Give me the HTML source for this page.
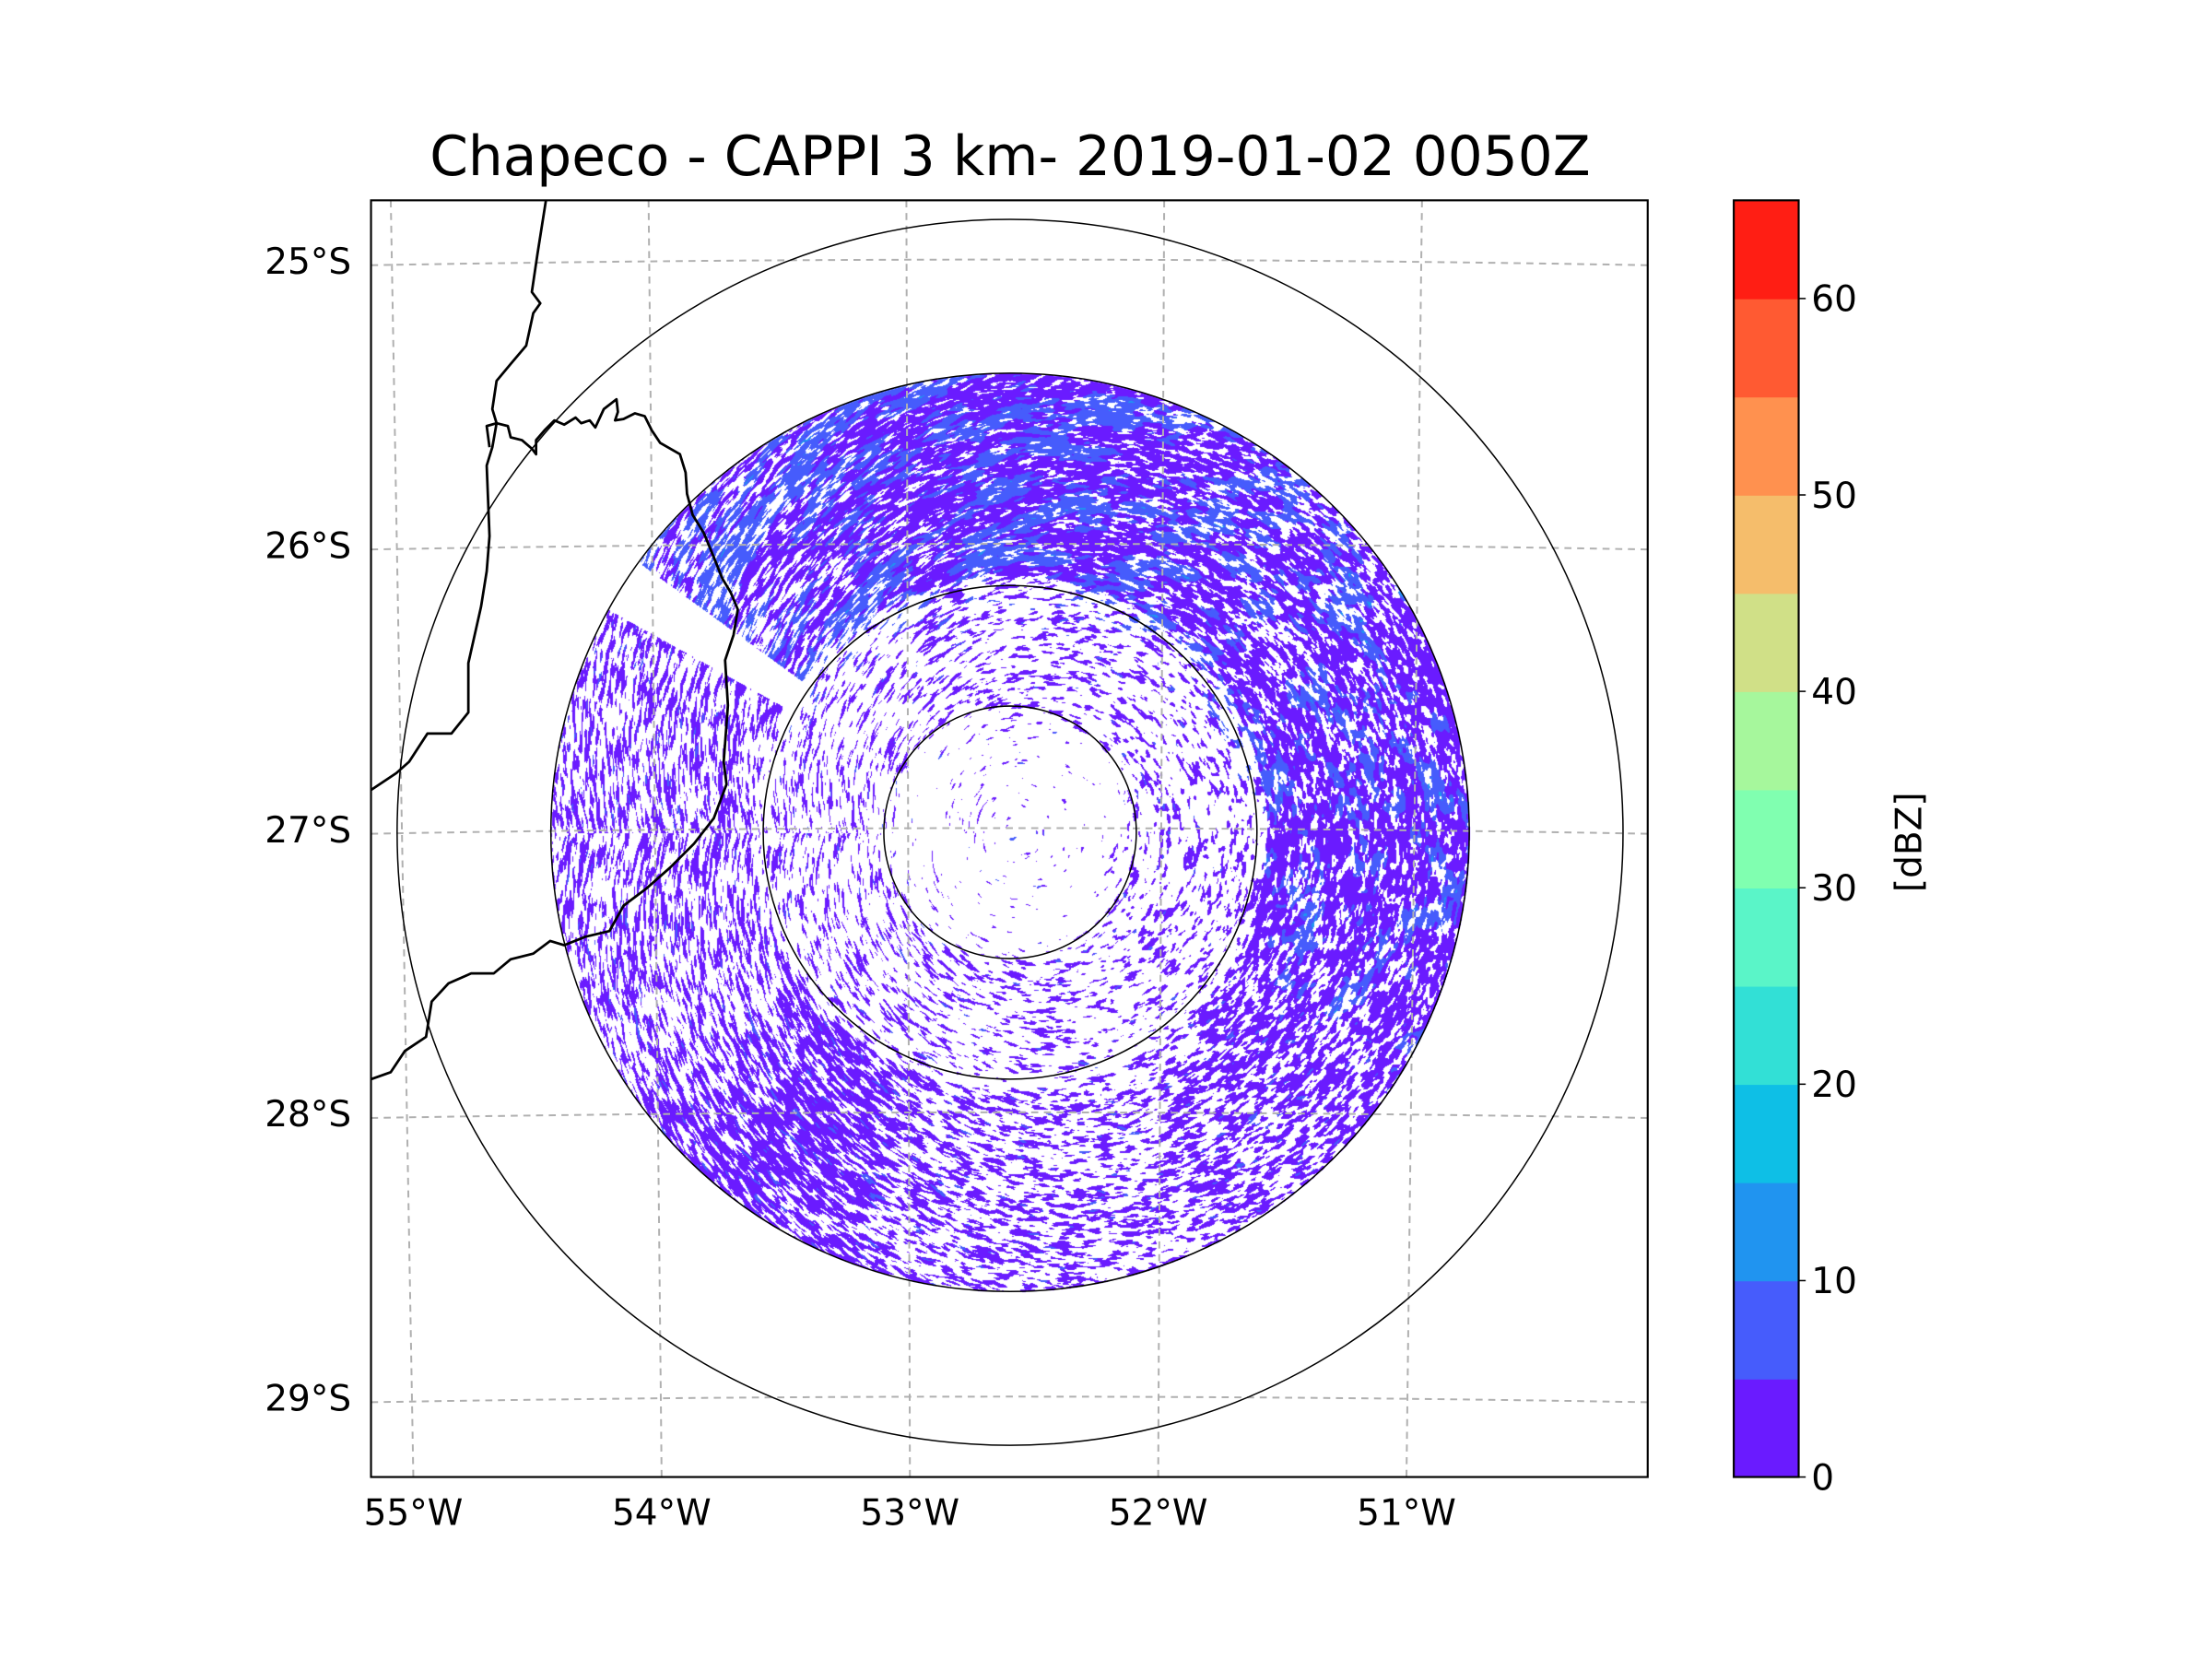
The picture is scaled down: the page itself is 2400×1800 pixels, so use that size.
<!DOCTYPE html>
<html><head><meta charset="utf-8">
<style>
html,body{margin:0;padding:0;background:#fff;}
#wrap{position:relative;width:2400px;height:1800px;overflow:hidden;font-family:"DejaVu Sans","Liberation Sans",sans-serif;}
#radar{position:absolute;left:0;top:0;}
#ov{position:absolute;left:0;top:0;}
</style></head>
<body>
<div id="wrap">
<canvas id="radar" width="2400" height="1800"></canvas>
<svg id="ov" width="2400" height="1800" viewBox="0 0 1568 1176">
 <g id="grid" stroke="#b0b0b0" stroke-width="1.3" stroke-dasharray="5,4" fill="none"></g>
 <g stroke="#000" stroke-width="1.8" fill="none" stroke-linejoin="round">
  <polyline points="387,142 381,180 377,207 383,215 378,222 373,245 362,258 352,270 349,290 352,300 349,317 345,330 347,380 345,405 341,430 332,470 332,505 320,520 303,520 290,540 281,548 263,560"/>
  <polyline points="347,317 345,302 352,300 360,302 362,310 370,312 377,318 380,322 380,312 386,305 393,298 400,301 408,296 412,300 418,298 422,303 428,290 437,283 438,292 436,298 442,297 450,293 457,295 462,305 468,314 475,318 482,322 486,335 487,350 491,365 499,378 506,395 512,410 518,420 523,432 520,450 514,468 516,500 513,540 515,556 506,580 492,598 475,615 458,630 442,642 432,660 415,664 400,670 390,667 378,676 362,680 350,690 334,690 318,697 306,710 302,735 287,745 277,760 263,765"/>
 </g>
 <g id="rings" stroke="#000" stroke-width="1" fill="none"></g>
 <rect x="263" y="142" width="905" height="905" fill="none" stroke="#000" stroke-width="1.4"/>
 <text x="716" y="124" font-size="39" text-anchor="middle" fill="#000">Chapeco - CAPPI 3 km- 2019-01-02 0050Z</text>
 <g id="ylab" font-size="25.5" text-anchor="end" fill="#000"></g>
 <g id="xlab" font-size="25.5" text-anchor="middle" fill="#000"></g>
 <g id="cbar"></g>
 <g id="cbt" font-size="25.5" fill="#000"></g>
 <text transform="translate(1362,597) rotate(-90)" font-size="25.5" text-anchor="middle" fill="#000">[dBZ]</text>
</svg>
</div>
<script>
// colorbar data
const levels = [0,5,10,15,20,25,30,35,40,45,50,55,60,65];
const levelColors = ["#6a1bff","#465cfc","#2094f0","#0ebfe6","#32e0d6","#5af5c8","#80ffb0","#a6f79c","#d0e087","#f5bd6b","#ff914f","#ff5a32","#ff1e14"];
const cbTicks = [0,10,20,30,40,50,60];
// map gridline data (degrees)
const latTicks = [25,26,27,28,29];
const latLabels = ["25°S","26°S","27°S","28°S","29°S"];
const lonTicks = [55,54,53,52,51];
const lonLabels = ["55°W","54°W","53°W","52°W","51°W"];

const NS="http://www.w3.org/2000/svg";
function mk(tag,attrs,parent){const e=document.createElementNS(NS,tag);for(const k in attrs)e.setAttribute(k,attrs[k]);parent.appendChild(e);return e;}
const cbY = v => 1047 - (v-0)*(905/65);
const latY = lat => 185 + (lat-25)*201.5;
const lonTopX = lon => 277 + (55-lon)*182.75;
const lonBotX = lon => 293 + (55-lon)*176;
const CX=716, CY=590;

const grid=document.getElementById('grid');
latTicks.forEach((lat,i)=>{
  const yc=latY(lat);
  const l=mk('path',{d:`M263,${yc+3} Q716,${yc-5} 1168,${yc+3}`},grid);
  
  
  const t=mk('text',{x:249,y:yc+9},document.getElementById('ylab'));
  t.textContent=latLabels[i];
  
  
});
lonTicks.forEach((lon,i)=>{
  const l=mk('line',{x1:lonTopX(lon),y1:142,x2:lonBotX(lon),y2:1047},grid);
  
  
  const t=mk('text',{x:lonBotX(lon),y:1081},document.getElementById('xlab'));
  t.textContent=lonLabels[i];
  
  
});
const rings=document.getElementById('rings');
const ringR=[89.5,175,325.5,434.5];
ringR.forEach(r=>{
  const c=mk('circle',{cx:CX,cy:CY,r:r},rings);
  
  
});
const cbar=document.getElementById('cbar');
for(let i=0;i<levelColors.length;i++){
  const r=mk('rect',{x:1229,y:cbY(levels[i+1]),width:46,height:cbY(levels[i])-cbY(levels[i+1])+0.5,fill:levelColors[i]},cbar);
  
  
}
const fr=mk('rect',{x:1229,y:142,width:46,height:905,fill:'none',stroke:'#000','stroke-width':1.4},cbar);


const cbt=document.getElementById('cbt');
cbTicks.forEach(v=>{
  const l=mk('line',{x1:1275,y1:cbY(v),x2:1280,y2:cbY(v),stroke:'#000','stroke-width':1},cbt);
  
  
  const t=mk('text',{x:1284,y:cbY(v)+9},cbt);
  t.textContent=v;
  
  
});

// radar texture
(function(){
  const cv=document.getElementById('radar'),ctx=cv.getContext('2d');
  const S=2400/1568, cx=CX*S, cy=CY*S, R=325.5*S;
  function h(i,j,s){let n=(i*374761393+j*668265263+s*982451653)|0;n=(n^(n>>>13))*1274126177|0;n=n^(n>>>16);return (n>>>0)/4294967296;}
  function vn(x,y,s){const i=Math.floor(x),j=Math.floor(y),fx=x-i,fy=y-j;const ux=fx*fx*(3-2*fx),uy=fy*fy*(3-2*fy);
    const a=h(i,j,s),b=h(i+1,j,s),c=h(i,j+1,s),d=h(i+1,j+1,s);return a+(b-a)*ux+(c-a)*uy+(a-b-c+d)*ux*uy;}
  function bump(deg,c,w){let d=Math.abs(deg-c);if(d>180)d=360-d;return d<w?0.5+0.5*Math.cos(Math.PI*d/w):0;}
  function sect(deg){
    return 0.46 + 0.22*bump(deg,-90,80) + 0.17*bump(deg,0,70) + 0.15*bump(deg,125,25);
  }
  const img=ctx.createImageData(2400,1800),D=img.data;
  const cols=[[106,27,255],[70,92,252],[32,148,240],[14,191,230]];
  const x0=Math.floor(cx-R),x1=Math.ceil(cx+R),y0=Math.floor(cy-R),y1=Math.ceil(cy+R);
  for(let y=y0;y<=y1;y++)for(let x=x0;x<=x1;x++){
    const dx=x-cx,dy=y-cy,r=Math.sqrt(dx*dx+dy*dy);if(r>R)continue;
    const th=Math.atan2(dy,dx),deg=th*180/Math.PI,rn=r/R;
    let dens;
    if(rn>0.56) dens=sect(deg);
    else if(rn>0.5) dens=sect(deg)*(rn-0.5)/0.06*0.6+0.38*(1-(rn-0.5)/0.06);
    else if(rn>0.27) dens=0.37;
    else dens=0.2;
    if(deg<-144&&deg>-151&&rn>0.54) dens=0.03;
    const u=r/4, v=th*r/9;
    const n=0.6*vn(u,v,1)+0.4*vn(u*2.1,v*2.1,2);
    if(n>dens) continue;
    let ci=0;
    if(rn>0.5&&deg>-150&&deg<30){const b=0.6*vn(r/20,th*r/30,3)+0.4*vn(u,v,6);
      const thr=deg<-40?0.52:0.62;
      if(b>thr)ci=1; if(b>0.8&&vn(u*1.5,v*1.5,4)>0.75)ci=2;}
    else if(vn(u,v,5)>0.87)ci=1;
    const k=(y*2400+x)*4;D[k]=cols[ci][0];D[k+1]=cols[ci][1];D[k+2]=cols[ci][2];D[k+3]=255;
  }
  ctx.putImageData(img,0,0);
})();
</script>
</body></html>
